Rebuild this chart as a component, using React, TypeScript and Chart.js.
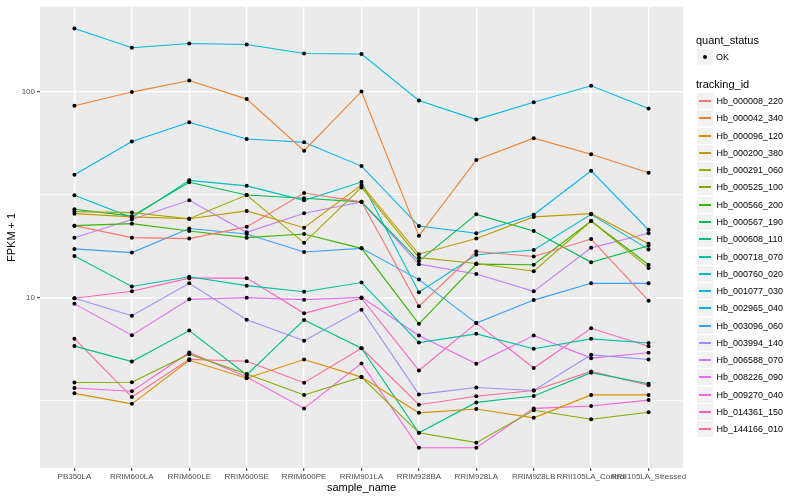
import React, { useEffect, useRef } from "react";
import { Chart, registerables } from "chart.js";

Chart.register(...registerables);

const categories = [
  "PB350LA",
  "RRIM600LA",
  "RRIM600LE",
  "RRIM600SE",
  "RRIM600PE",
  "RRIM901LA",
  "RRIM928BA",
  "RRIM928LA",
  "RRIM928LB",
  "RRII105LA_Control",
  "RRII105LA_Stressed",
];

const trackingIds = [
  "Hb_000008_220",
  "Hb_000042_340",
  "Hb_000096_120",
  "Hb_000200_380",
  "Hb_000291_060",
  "Hb_000525_100",
  "Hb_000566_200",
  "Hb_000567_190",
  "Hb_000608_110",
  "Hb_000718_070",
  "Hb_000760_020",
  "Hb_001077_030",
  "Hb_002965_040",
  "Hb_003096_060",
  "Hb_003994_140",
  "Hb_006588_070",
  "Hb_008226_090",
  "Hb_009270_040",
  "Hb_014361_150",
  "Hb_144166_010",
];

const colors = [
  "#F8766D", "#EA8331", "#D89000", "#C09B00", "#A3A500",
  "#7CAE00", "#39B600", "#00BB4E", "#00BF7D", "#00C1A3",
  "#00BFC4", "#00BAE0", "#00B0F6", "#35A2FF", "#9590FF",
  "#C77CFF", "#E76BF3", "#FA62DB", "#FF62BC", "#FF6C91",
];

const Hb_000008_220 = [22.3, 19.5, 19.3, 22.0, 32.1, 29.1, 9.05, 16.7, 15.8, 19.2, 9.64];
const Hb_000042_340 = [85.3, 99.3, 113, 91.8, 51.6, 100, 19.9, 46.5, 59.3, 49.6, 40.3];
const Hb_000096_120 = [3.42, 3.04, 4.95, 4.05, 4.99, 4.1, 2.75, 2.87, 2.6, 3.36, 3.36];
const Hb_000200_380 = [25.5, 24.6, 24.1, 26.3, 21.8, 35.1, 16.2, 19.3, 24.6, 25.5, 18.2];
const Hb_000291_060 = [26.1, 25.8, 24.1, 31.4, 18.4, 34.2, 15.6, 14.6, 13.4, 23.5, 13.9];
const Hb_000525_100 = [3.86, 3.87, 5.3, 4.25, 3.36, 4.1, 2.2, 1.97, 2.83, 2.56, 2.77];
const Hb_000566_200 = [22.3, 22.8, 21.0, 19.5, 20.3, 17.3, 7.44, 14.5, 14.4, 23.5, 14.4];
const Hb_000567_190 = [26.8, 24.8, 36.2, 31.4, 30.3, 29.1, 15.0, 25.3, 21.0, 14.8, 17.8];
const Hb_000608_110 = [5.8, 4.88, 6.9, 4.2, 7.77, 5.66, 2.2, 3.09, 3.32, 4.31, 3.81];
const Hb_000718_070 = [15.9, 11.3, 12.6, 11.4, 10.65, 11.8, 6.03, 6.65, 5.63, 6.29, 6.0];
const Hb_000760_020 = [31.3, 24.4, 37.0, 34.8, 29.6, 36.3, 10.6, 16.1, 17.0, 25.3, 17.1];
const Hb_001077_030 = [202, 163, 171, 169, 153, 152, 90.4, 73, 88.7, 106.6, 82.7];
const Hb_002965_040 = [39.4, 57.1, 70.8, 58.8, 56.7, 43.4, 22.2, 20.5, 25.2, 41.2, 21.3];
const Hb_003096_060 = [17.2, 16.5, 21.6, 20.3, 16.6, 17.3, 12.2, 7.5, 9.7, 11.7, 11.7];
const Hb_003994_140 = [9.9, 8.15, 11.7, 7.79, 6.16, 8.72, 3.38, 3.65, 3.53, 5.26, 4.99];
const Hb_006588_070 = [19.5, 23.9, 29.6, 20.7, 25.6, 29.1, 14.5, 13.0, 10.7, 17.4, 20.5];
const Hb_008226_090 = [9.3, 6.55, 9.78, 9.97, 9.75, 10.0, 6.53, 4.76, 6.53, 5.07, 5.38];
const Hb_009270_040 = [3.63, 3.5, 5.4, 4.1, 2.89, 4.78, 1.86, 1.86, 2.89, 2.97, 3.17];
const Hb_014361_150 = [9.9, 10.7, 12.4, 12.4, 8.37, 9.9, 4.42, 7.5, 4.54, 7.08, 5.79];
const Hb_144166_010 = [6.3, 3.28, 5.0, 4.9, 3.85, 5.66, 3.01, 3.31, 3.53, 4.37, 3.74];

const seriesValues = [
  Hb_000008_220, Hb_000042_340, Hb_000096_120, Hb_000200_380, Hb_000291_060,
  Hb_000525_100, Hb_000566_200, Hb_000567_190, Hb_000608_110, Hb_000718_070,
  Hb_000760_020, Hb_001077_030, Hb_002965_040, Hb_003096_060, Hb_003994_140,
  Hb_006588_070, Hb_008226_090, Hb_009270_040, Hb_014361_150, Hb_144166_010,
];

const yMajorTicks = [10, 100];
const yMinorTicks = [Math.sqrt(10), Math.sqrt(1000)];

const FONT = '"Liberation Sans", Arial, Helvetica, sans-serif';

export default function App() {
  const canvasRef = useRef<HTMLCanvasElement | null>(null);

  useEffect(() => {
    const canvas = canvasRef.current;
    if (!canvas) return;

    const lineSets = seriesValues.map((vals, s) => ({
      type: "line" as const,
      label: trackingIds[s],
      data: vals.map((v, i) => ({ x: i, y: v })),
      borderColor: colors[s],
      backgroundColor: colors[s],
      borderWidth: 1.1,
      pointRadius: 0,
      fill: false,
      tension: 0,
      order: 2,
    }));
    const pointSets = seriesValues.map((vals, s) => ({
      type: "line" as const,
      label: trackingIds[s] + " points",
      data: vals.map((v, i) => ({ x: i, y: v })),
      showLine: false,
      pointRadius: 2,
      pointBorderWidth: 0,
      pointBackgroundColor: "#000000",
      pointBorderColor: "#000000",
      order: 1,
    }));

    const panelBg = {
      id: "panelBg",
      beforeDraw(chart: any) {
        const { ctx, chartArea } = chart;
        ctx.save();
        ctx.fillStyle = "#EBEBEB";
        ctx.fillRect(chartArea.left, chartArea.top, chartArea.right - chartArea.left, chartArea.bottom - chartArea.top);
        ctx.restore();
      },
      afterDraw(chart: any) {
        const { ctx, chartArea } = chart;
        ctx.save();
        ctx.fillStyle = "#000000";
        ctx.font = `11px ${FONT}`;
        ctx.textAlign = "center";
        ctx.textBaseline = "middle";
        ctx.fillText("sample_name", (chartArea.left + chartArea.right) / 2, 488);
        ctx.translate(12, (chartArea.top + chartArea.bottom) / 2);
        ctx.rotate(-Math.PI / 2);
        ctx.fillText("FPKM + 1", 0, 0);
        ctx.restore();
      },
    };

    const chart = new Chart(canvas, {
      type: "line",
      data: { datasets: [...lineSets, ...pointSets] as any },
      options: {
        animation: false,
        responsive: false,
        maintainAspectRatio: false,
        layout: { padding: { left: 0, top: 5, right: 117, bottom: 0 } },
        plugins: { legend: { display: false }, tooltip: { enabled: false } },
        scales: {
          x: {
            type: "linear",
            min: -0.6,
            max: 10.6,
            afterBuildTicks: (axis: any) => {
              axis.ticks = categories.map((_, i) => ({ value: i }));
            },
            afterFit: (axis: any) => {
              axis.height = 32;
            },
            ticks: {
              autoSkip: false,
              maxRotation: 0,
              minRotation: 0,
              padding: 1,
              color: "#4D4D4D",
              font: { family: FONT, size: 8 },
              callback: (v: any) => categories[v as number] ?? "",
            },
            grid: {
              color: "#FFFFFF",
              lineWidth: 1.4,
              drawTicks: true,
              tickLength: 3,
              tickColor: "#333333",
              tickWidth: 1,
            },
            border: { display: false },
          },
          y: {
            type: "logarithmic",
            min: 1.484,
            max: 257.7,
            afterBuildTicks: (axis: any) => {
              axis.ticks = [...yMinorTicks, ...yMajorTicks]
                .sort((a, b) => a - b)
                .map((v) => ({ value: v, major: yMajorTicks.includes(v) }));
            },
            afterFit: (axis: any) => {
              axis.width = 40;
            },
            ticks: {
              autoSkip: false,
              padding: 2,
              color: "#4D4D4D",
              font: { family: FONT, size: 8 },
              callback: (v: any) => (yMajorTicks.includes(v as number) ? String(v) : ""),
            },
            grid: {
              color: "#FFFFFF",
              lineWidth: (c: any) => (c.tick && yMajorTicks.includes(c.tick.value) ? 1.4 : 0.7),
              drawTicks: true,
              tickLength: 3,
              tickWidth: 1,
              tickColor: (c: any) =>
                c.tick && yMajorTicks.includes(c.tick.value) ? "#333333" : "rgba(0,0,0,0)",
            },
            border: { display: false },
          },
        },
      },
      plugins: [panelBg],
    });

    return () => chart.destroy();
  }, []);

  const legendTop = 93;
  const step = 17.28;

  return (
    <div
      style={{
        position: "fixed",
        left: 0,
        top: 0,
        width: 800,
        height: 500,
        background: "#FFFFFF",
        fontFamily: FONT,
      }}
    >
      <canvas ref={canvasRef} width={800} height={500} style={{ position: "absolute", left: 0, top: 0, width: 800, height: 500 }} />
      <div style={{ position: "absolute", left: 696, top: 34, fontSize: 11, lineHeight: "13px", color: "#000" }}>
        quant_status
      </div>
      <div style={{ position: "absolute", left: 697, top: 49, width: 16, height: 16, background: "#F2F2F2" }}>
        <div style={{ position: "absolute", left: 6, top: 6, width: 4, height: 4, borderRadius: 2, background: "#000" }} />
      </div>
      <div style={{ position: "absolute", left: 716, top: 51, fontSize: 9, lineHeight: "12px", color: "#000" }}>OK</div>
      <div style={{ position: "absolute", left: 696, top: 78, fontSize: 11, lineHeight: "13px", color: "#000" }}>
        tracking_id
      </div>
      {trackingIds.map((id, i) => {
        const top = Math.round(legendTop + i * step);
        return (
          <React.Fragment key={id}>
            <div
              style={{
                position: "absolute",
                left: 697,
                top: top,
                width: 16,
                height: 16,
                background: "#F2F2F2",
              }}
            >
              <div
                style={{
                  position: "absolute",
                  left: 2,
                  top: 7,
                  width: 12,
                  height: 2,
                  background: colors[i],
                }}
              />
            </div>
            <div
              style={{
                position: "absolute",
                left: 716.5,
                top: top + 2,
                fontSize: 9,
                lineHeight: "12px",
                color: "#000",
                whiteSpace: "nowrap",
              }}
            >
              {id}
            </div>
          </React.Fragment>
        );
      })}
    </div>
  );
}
